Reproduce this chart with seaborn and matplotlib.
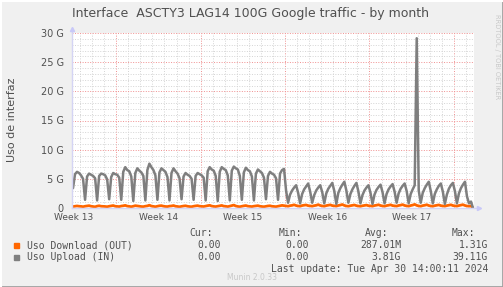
import matplotlib
matplotlib.use("Agg")
import matplotlib.pyplot as plt
import matplotlib.dates as mdates
from matplotlib.ticker import MultipleLocator, FuncFormatter, NullFormatter
from matplotlib.patches import Rectangle
from matplotlib.lines import Line2D
import matplotlib.transforms as mtransforms
import seaborn as sns
import pandas as pd

# samples every 4h (02, 06, 10, 14, 18, 22), values in Gbit/s
upload_in = [
    3.4, 5.8, 6.2, 6.0,                      # Mar 28 (from 10:00)
    5.6, 5.0, 1.4, 5.4, 5.9, 5.7,            # Mar 29
    5.5, 5.1, 1.3, 5.5, 5.9, 5.8,            # Mar 30
    5.6, 4.9, 1.5, 5.3, 6.0, 5.8,            # Mar 31
    5.7, 5.2, 1.4, 6.2, 7.0, 6.5,            # Apr 1
    6.3, 5.4, 1.2, 6.0, 6.8, 6.4,            # Apr 2
    6.1, 5.5, 1.3, 6.5, 7.6, 7.0,            # Apr 3
    6.5, 5.6, 1.4, 6.1, 6.8, 6.5,            # Apr 4
    6.2, 5.3, 1.3, 6.0, 6.8, 6.3,            # Apr 5
    5.9, 5.1, 1.5, 5.4, 6.0, 5.7,            # Apr 6
    5.5, 5.0, 1.4, 5.5, 6.0, 5.8,            # Apr 7
    5.6, 5.2, 1.3, 6.3, 7.0, 6.6,            # Apr 8
    6.4, 5.5, 1.2, 6.2, 7.0, 6.7,            # Apr 9
    6.5, 5.6, 1.3, 6.4, 7.1, 6.8,            # Apr 10
    6.6, 5.5, 1.4, 6.1, 6.9, 6.5,            # Apr 11
    6.3, 5.4, 1.3, 5.9, 6.6, 6.3,            # Apr 12
    6.0, 5.2, 1.5, 5.5, 6.2, 5.9,            # Apr 13
    5.7, 5.1, 1.4, 5.9, 6.5, 6.7,            # Apr 14
    3.0, 0.9, 2.3, 3.0, 3.5, 3.9,            # Apr 15
    2.6, 0.8, 2.4, 3.2, 3.7, 4.2,            # Apr 16
    2.8, 0.9, 2.2, 3.0, 3.5, 3.9,            # Apr 17
    2.7, 0.8, 2.5, 3.3, 3.8, 4.3,            # Apr 18
    2.9, 0.7, 2.6, 3.4, 4.0, 4.5,            # Apr 19
    3.0, 0.9, 2.4, 3.2, 3.8, 4.3,            # Apr 20
    2.8, 0.8, 2.2, 3.0, 3.5, 3.9,            # Apr 21
    2.6, 0.7, 2.3, 3.1, 3.6, 4.0,            # Apr 22
    2.7, 0.8, 2.4, 3.2, 3.7, 4.1,            # Apr 23
    2.8, 0.9, 2.5, 3.3, 3.8, 4.2,            # Apr 24
    2.9, 0.8, 2.4, 3.2, 3.9, 29.1,           # Apr 25
    3.0, 0.9, 2.6, 3.4, 4.0, 4.5,            # Apr 26
    2.9, 0.8, 2.4, 3.2, 3.8, 4.2,            # Apr 27
    2.8, 0.7, 2.3, 3.3, 3.9, 4.3,            # Apr 28
    2.9, 0.8, 2.5, 3.4, 4.0, 4.5,            # Apr 29
    2.0, 0.8, 1.1, 0.0,                      # Apr 30
]

download_out = [
    0.25, 0.30, 0.35, 0.30,
    0.28, 0.22, 0.30, 0.35, 0.40, 0.30,
    0.25, 0.20, 0.32, 0.38, 0.30, 0.28,
    0.26, 0.22, 0.30, 0.36, 0.42, 0.30,
    0.27, 0.24, 0.33, 0.38, 0.45, 0.32,
    0.28, 0.22, 0.30, 0.40, 0.35, 0.30,
    0.25, 0.23, 0.31, 0.36, 0.48, 0.33,
    0.27, 0.22, 0.30, 0.38, 0.40, 0.31,
    0.26, 0.24, 0.32, 0.35, 0.42, 0.30,
    0.25, 0.21, 0.28, 0.34, 0.38, 0.29,
    0.24, 0.22, 0.30, 0.36, 0.40, 0.31,
    0.28, 0.25, 0.33, 0.40, 0.46, 0.33,
    0.27, 0.24, 0.31, 0.38, 0.44, 0.32,
    0.29, 0.23, 0.32, 0.40, 0.50, 0.34,
    0.26, 0.22, 0.30, 0.37, 0.42, 0.31,
    0.27, 0.24, 0.31, 0.36, 0.40, 0.30,
    0.25, 0.22, 0.29, 0.35, 0.38, 0.29,
    0.26, 0.23, 0.30, 0.36, 0.45, 0.40,
    0.35, 0.30, 0.40, 0.45, 0.55, 0.42,
    0.34, 0.30, 0.42, 0.48, 0.52, 0.40,
    0.36, 0.31, 0.40, 0.46, 0.58, 0.43,
    0.35, 0.30, 0.41, 0.47, 0.54, 0.41,
    0.37, 0.32, 0.43, 0.50, 0.60, 0.44,
    0.34, 0.30, 0.39, 0.45, 0.52, 0.40,
    0.33, 0.29, 0.38, 0.44, 0.50, 0.39,
    0.36, 0.31, 0.42, 0.48, 0.56, 0.42,
    0.35, 0.30, 0.41, 0.47, 0.55, 0.41,
    0.37, 0.32, 0.43, 0.49, 0.58, 0.43,
    0.36, 0.31, 0.42, 0.50, 0.62, 0.45,
    0.35, 0.30, 0.41, 0.47, 0.56, 0.42,
    0.34, 0.30, 0.40, 0.46, 0.53, 0.40,
    0.35, 0.31, 0.41, 0.48, 0.55, 0.42,
    0.36, 0.32, 0.42, 0.49, 0.57, 0.43,
    0.34, 0.30, 0.35, 0.00,
]

week_labels = ["Week 13", "Week 14", "Week 15", "Week 16", "Week 17"]
week_centers = pd.to_datetime(["2024-03-28 12:00", "2024-04-04 12:00", "2024-04-11 12:00",
                               "2024-04-18 12:00", "2024-04-25 12:00"])

legend_names = ["Uso Download (OUT)", "Uso Upload (IN)"]
legend_cur = ["0.00", "0.00"]
legend_min = ["0.00", "0.00"]
legend_avg = ["287.01M", "3.81G"]
legend_max = ["1.31G", "39.11G"]
colors = ["#ff6600", "#7f7f7f"]

times = pd.date_range("2024-03-28 10:00", "2024-04-30 14:00", freq="4h")
df = pd.DataFrame({"time": times, "out": download_out, "in": upload_in})

sns.set_style("white")
plt.rcParams["font.family"] = ["DejaVu Sans"]

W, H = 503, 287
fig = plt.figure(figsize=(W / 100, H / 100), dpi=100, facecolor="#f0f0f0")
ax = fig.add_axes([72 / W, 1 - 208 / H, 402 / W, 175 / H], facecolor="white")

sns.lineplot(data=df, x="time", y="out", ax=ax, color=colors[0], lw=2.0)
sns.lineplot(data=df, x="time", y="in", ax=ax, color=colors[1], lw=1.8)

ax.set_xlim(pd.Timestamp("2024-03-28 08:00"), pd.Timestamp("2024-04-30 16:00"))
ax.set_ylim(0, 30)
ax.set_xlabel("")
ax.set_ylabel("")

ax.xaxis.set_major_locator(mdates.WeekdayLocator(byweekday=mdates.MO))
ax.xaxis.set_minor_locator(mdates.DayLocator())
ax.xaxis.set_major_formatter(NullFormatter())
ax.yaxis.set_major_locator(MultipleLocator(5))
ax.yaxis.set_minor_locator(MultipleLocator(1))
ax.yaxis.set_major_formatter(FuncFormatter(lambda v, p: "0" if v == 0 else f"{int(v)} G"))

ax.grid(which="minor", color="#d4d4d4", linestyle=(0, (1, 1.6)), lw=0.7)
ax.grid(which="major", color="#f09090", linestyle=(0, (1, 1.6)), lw=0.7)
ax.set_axisbelow(True)

ax.tick_params(axis="y", which="major", labelsize=7, labelcolor="#505050", length=2,
               color="#f09090", pad=4)
ax.tick_params(axis="y", which="minor", length=1, color="#c0c0c0")
ax.tick_params(axis="x", which="major", length=2, color="#f09090")
ax.tick_params(axis="x", which="minor", length=1, color="#c0c0c0")

for s in ["top", "right"]:
    ax.spines[s].set_visible(False)
for s in ["left", "bottom"]:
    ax.spines[s].set_color("#d4d4f4")
    ax.spines[s].set_linewidth(1.0)

# axis arrows
ax.plot([0, 0], [1.0, 1.02], transform=ax.transAxes, color="#d4d4f4", lw=1, clip_on=False)
ax.plot([0], [1.025], marker="^", ms=3, color="#c8c8f8", transform=ax.transAxes, clip_on=False)
ax.plot([1.0, 1.01], [0, 0], transform=ax.transAxes, color="#d4d4f4", lw=1, clip_on=False)
ax.plot([1.012], [0], marker=">", ms=3, color="#c8c8f8", transform=ax.transAxes, clip_on=False)

trans = mtransforms.blended_transform_factory(ax.transData, ax.transAxes)
for lab, c in zip(week_labels, week_centers):
    ax.text(c, -0.03, lab, transform=trans, ha="center", va="top", fontsize=6.5, color="#505050")

fig.text(251 / W, 1 - 13 / H, "Interface  ASCTY3 LAG14 100G Google traffic - by month",
         ha="center", va="center", fontsize=9, color="#505050")
fig.text(12 / W, 1 - 120 / H, "Uso de interfaz", rotation=90, ha="center", va="center",
         fontsize=8, color="#505050")
fig.text(497 / W, 1 - 14 / H, "RRDTOOL / TOBI OETIKER", rotation=270, ha="center", va="top",
         fontsize=4.8, color="#c8c8c8")

mono = {"family": "DejaVu Sans Mono", "fontsize": 7, "color": "#505050"}
for x, head in zip([213, 302, 388, 475], ["Cur:", "Min:", "Avg:", "Max:"]):
    fig.text(x / W, 1 - 233 / H, head, ha="right", va="center", **mono)
for i, yy in enumerate([245, 257]):
    fig.patches.append(Rectangle((14 / W, 1 - (yy + 3) / H), 5 / W, 5 / H,
                                 transform=fig.transFigure, color=colors[i]))
    fig.text(27 / W, 1 - yy / H, legend_names[i], ha="left", va="center", **mono)
    for x, vals in zip([221, 309, 401, 488], [legend_cur, legend_min, legend_avg, legend_max]):
        fig.text(x / W, 1 - yy / H, vals[i], ha="right", va="center", **mono)
fig.text(488 / W, 1 - 269 / H, "Last update: Tue Apr 30 14:00:11 2024", ha="right", va="center", **mono)
fig.text(252 / W, 1 - 277 / H, "Munin 2.0.33", ha="center", va="center", fontsize=5.5, color="#c8c8c8")

# munin frame
fig.add_artist(Line2D([0, 1], [0.5 / H, 0.5 / H], transform=fig.transFigure, color="#a0a0a0", lw=2))
fig.add_artist(Line2D([1 - 0.5 / W, 1 - 0.5 / W], [0, 1], transform=fig.transFigure, color="#a0a0a0", lw=2))
fig.add_artist(Line2D([0, 1], [1 - 0.5 / H, 1 - 0.5 / H], transform=fig.transFigure, color="#ffffff", lw=1.5))
fig.add_artist(Line2D([0.5 / W, 0.5 / W], [0, 1], transform=fig.transFigure, color="#ffffff", lw=1.5))

fig.savefig("out.png", dpi=100, facecolor=fig.get_facecolor())
